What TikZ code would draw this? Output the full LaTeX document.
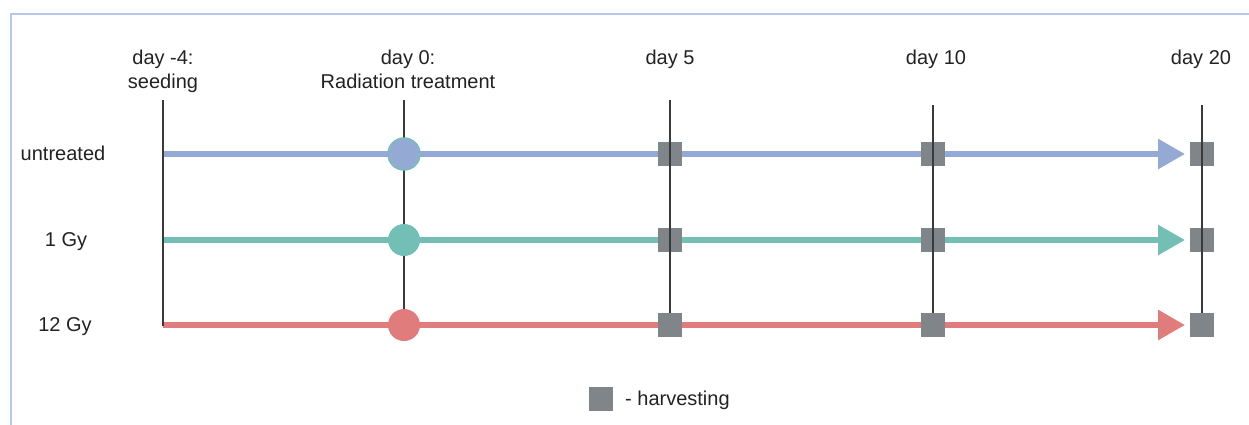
\documentclass[tikz,border=0pt]{standalone}
\usepackage{fontspec}
\setmainfont{Liberation Sans}
\usetikzlibrary{arrows.meta}
\definecolor{framec}{HTML}{B7C9EA}
\definecolor{ublue}{HTML}{94A9D3}
\definecolor{teal1}{HTML}{73BFB5}
\definecolor{red1}{HTML}{E07C7C}
\definecolor{sqgray}{HTML}{7F8588}
\definecolor{vline}{HTML}{3A3A3A}
\definecolor{txt}{HTML}{222222}
\pgfdeclarelayer{arrowlayer}
\pgfdeclarelayer{squarelayer}
\pgfdeclarelayer{linelayer}
\pgfsetlayers{arrowlayer,squarelayer,linelayer,main}
\begin{document}
\begin{tikzpicture}[x=1pt,y=-1pt,font=\fontsize{20}{24}\selectfont,
  lbl/.style={inner sep=0pt,anchor=base,text=txt},
  tick/.style={draw=vline,line width=2pt},
  track/.style={line width=6pt,-{Triangle[length=27pt,width=29pt]}},
  sq/.style={rectangle,fill=sqgray,minimum size=24pt,inner sep=0pt},
  dot/.style={circle,minimum size=32pt,inner sep=0pt},
  framestyle/.style={draw=framec,line width=1.5pt}]
\useasboundingbox (0,0) rectangle (1249,424);
% frame
\draw[framestyle] (1260,14) -- (11,14) -- (11,440);
% labels
\node[lbl,align=center] (lm4) at (163,88) {day -4:\\seeding};
\node[lbl,align=center] (l0) at (408,88) {day 0:\\Radiation treatment};
\node[lbl] (l5) at (670,64) {day 5};
\node[lbl] (l10) at (936,64) {day 10};
\node[lbl] (l20) at (1201,64) {day 20};
\node[lbl] (ru) at (63,160) {untreated};
\node[lbl] (r1) at (66,246) {1 Gy};
\node[lbl] (r12) at (65,331) {12 Gy};
% coordinates
\coordinate (tm4) at (163,100);
\coordinate (bm4) at (163,326);
\coordinate (t0) at (404,100);
\coordinate (t5) at (670,100);
\coordinate (t10) at (933,105);
\coordinate (t20) at (1202,105);
\coordinate (su) at (163,154);
\coordinate (s1) at (163,240);
\coordinate (s12) at (163,325);
\coordinate (eu) at (1185,154);
\coordinate (e1) at (1185,240);
\coordinate (e12) at (1185,325);
% squares
\begin{pgfonlayer}{squarelayer}
\foreach \n/\x in {5/670,10/933,20/1202}{
  \node[sq] (qu\n) at (\x,154) {};
  \node[sq] (q1\n) at (\x,240) {};
  \node[sq] (q12\n) at (\x,325) {};
}
\node[sq] (leg) at (601,399) {};
\end{pgfonlayer}
\node[lbl,anchor=base west] (legt) at (625,405) {- harvesting};
% circles
\node[dot,fill=ublue,draw=teal1,line width=1.5pt] (cu) at (404,154) {};
\node[dot,fill=teal1] (c1) at (404,240) {};
\node[dot,fill=red1] (c12) at (404,325) {};
% vertical lines
\begin{pgfonlayer}{linelayer}
\draw[tick] (tm4) -- (bm4);
\draw[tick] (t0) -- (c12);
\draw[tick] (t5) -- (q125);
\draw[tick] (t10) -- (q1210);
\draw[tick] (t20) -- (q1220);
\end{pgfonlayer}
% tracks
\begin{pgfonlayer}{arrowlayer}
\draw[track,draw=ublue,fill=ublue] (su) -- (eu);
\draw[track,draw=teal1,fill=teal1] (s1) -- (e1);
\draw[track,draw=red1,fill=red1] (s12) -- (e12);
\end{pgfonlayer}
\end{tikzpicture}
\end{document}
